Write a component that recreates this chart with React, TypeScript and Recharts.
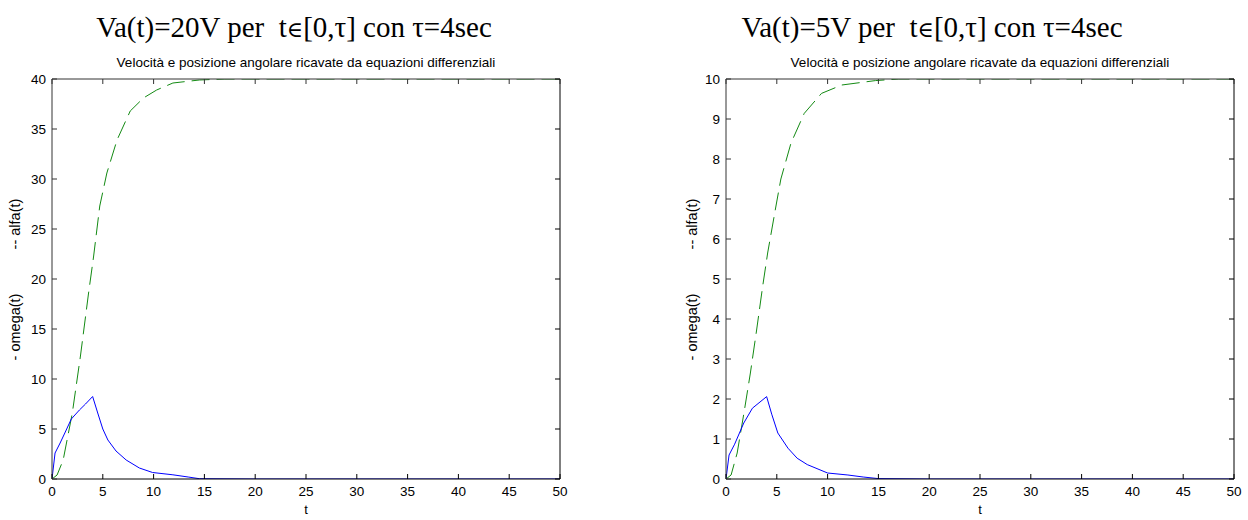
import React from 'react';
import { LineChart, Line, XAxis, YAxis } from 'recharts';

// ---- Left panel: Va(t)=20V ----
const tOmega20 = [0, 0.3, 0.8, 1.4, 1.9, 2.7, 3.3, 4.0, 4.5, 5.0, 5.5, 6.3, 7.3, 8.6, 9.9, 11.9, 13.4, 14.5, 20, 30, 40, 50];
const omega20 = [0, 2.6, 3.6, 4.9, 6.0, 6.9, 7.5, 8.25, 6.6, 5.0, 3.9, 2.8, 1.9, 1.1, 0.65, 0.42, 0.2, 0.03, 0, 0, 0, 0];
const tAlfa20 = [0, 0.5, 1.1, 2.0, 2.8, 3.6, 4.1, 4.7, 5.4, 6.4, 7.7, 9.0, 10.3, 11.9, 14.5, 17, 20, 30, 40, 50];
const alfa20 = [0, 0.4, 1.9, 6.6, 12.3, 18.6, 22.3, 27.3, 30.6, 33.9, 36.8, 38.1, 38.9, 39.6, 39.9, 40, 40, 40, 40, 40];

// ---- Right panel: Va(t)=5V ----
const tOmega5 = [0, 0.3, 0.85, 1.75, 2.6, 4.0, 4.5, 5.1, 6.1, 7.0, 8.0, 10.0, 12.0, 13.5, 15, 20, 30, 40, 50];
const omega5 = [0, 0.6, 0.87, 1.4, 1.77, 2.06, 1.62, 1.15, 0.77, 0.52, 0.36, 0.15, 0.1, 0.05, 0.01, 0, 0, 0, 0];
const tAlfa5 = [0, 0.5, 1.1, 1.8, 2.4, 3.0, 3.6, 4.1, 4.9, 5.4, 6.4, 7.7, 9.4, 11.4, 14.7, 17, 20, 30, 40, 50];
const alfa5 = [0, 0.1, 0.65, 1.7, 2.65, 3.7, 4.8, 5.65, 6.8, 7.5, 8.4, 9.14, 9.64, 9.85, 9.96, 10, 10, 10, 10, 10];

const xTicks = [0, 5, 10, 15, 20, 25, 30, 35, 40, 45, 50];
const yTicks20 = [0, 5, 10, 15, 20, 25, 30, 35, 40];
const yTicks5 = [0, 1, 2, 3, 4, 5, 6, 7, 8, 9, 10];

const titleHead20 = 'Va(t)=20V per  t';
const titleHead5 = 'Va(t)=5V per  t';
const titleElem = '\u2208';
const titleTail = '[0,\u03c4] con \u03c4=4sec';
const subtitle = 'Velocit\u00e0 e posizione angolare ricavate da equazioni differenziali';
const xLabel = 't';
const yLabelOmega = '- omega(t)';
const yLabelAlfa = '-- alfa(t)';

const toPts = (ts: number[], vs: number[]) => ts.map((t, i) => ({ t, v: vs[i] }));

const SANS = 'Liberation Sans, Arial, sans-serif';
const SERIF = 'Liberation Serif, Times New Roman, serif';
const TICK_LEN = 5;

const BottomTick = (props: any) => {
  const { x, y, payload } = props;
  return (
    <g>
      <line x1={x} y1={y} x2={x} y2={y - TICK_LEN} stroke="#000" strokeWidth={1} />
      <text x={x} y={y + 17} textAnchor="middle" fontFamily={SANS} fontSize={13.5} fill="#000">{payload.value}</text>
    </g>
  );
};
const TopTick = (props: any) => {
  const { x, y } = props;
  return <line x1={x} y1={y} x2={x} y2={y + TICK_LEN} stroke="#333" strokeWidth={1} />;
};
const LeftTick = (props: any) => {
  const { x, y, payload } = props;
  return (
    <g>
      <line x1={x} y1={y} x2={x + TICK_LEN} y2={y} stroke="#333" strokeWidth={1} />
      <text x={x - 6} y={y + 5} textAnchor="end" fontFamily={SANS} fontSize={13.5} fill="#000">{payload.value}</text>
    </g>
  );
};
const RightTick = (props: any) => {
  const { x, y } = props;
  return <line x1={x} y1={y} x2={x - TICK_LEN} y2={y} stroke="#000" strokeWidth={1} />;
};

type PanelProps = {
  left: number;
  yAxisWidth: number;
  rightMargin: number;
  yMax: number;
  yTicks: number[];
  omega: { t: number; v: number }[];
  alfa: { t: number; v: number }[];
};

function Panel(p: PanelProps) {
  return (
    <div style={{ position: 'absolute', left: p.left, top: 0 }}>
      <LineChart width={624} height={520} margin={{ top: 78, right: p.rightMargin - 1, bottom: 11, left: 0 }}>
        <XAxis
          xAxisId="b"
          dataKey="t"
          type="number"
          domain={[0, 50]}
          ticks={xTicks}
          allowDataOverflow
          height={30}
          tickSize={0}
          tickMargin={0}
          tickLine={false}
          axisLine={{ stroke: '#000' }}
          tick={<BottomTick />}
          interval={0}
        />
        <XAxis
          xAxisId="top"
          orientation="top"
          dataKey="t"
          type="number"
          domain={[0, 50]}
          ticks={xTicks}
          allowDataOverflow
          height={1}
          tickSize={0}
          tickMargin={0}
          tickLine={false}
          axisLine={{ stroke: '#333' }}
          tick={<TopTick />}
          interval={0}
        />
        <YAxis
          yAxisId="l"
          type="number"
          domain={[0, p.yMax]}
          ticks={p.yTicks}
          allowDataOverflow
          width={p.yAxisWidth}
          tickSize={0}
          tickMargin={0}
          tickLine={false}
          axisLine={{ stroke: '#333' }}
          tick={<LeftTick />}
          interval={0}
        />
        <YAxis
          yAxisId="r"
          orientation="right"
          type="number"
          domain={[0, p.yMax]}
          ticks={p.yTicks}
          allowDataOverflow
          width={1}
          tickSize={0}
          tickMargin={0}
          tickLine={false}
          axisLine={{ stroke: '#000' }}
          tick={<RightTick />}
          interval={0}
        />
        <Line
          xAxisId="b"
          yAxisId="l"
          data={p.alfa}
          dataKey="v"
          type="linear"
          stroke="#138a13"
          strokeWidth={1}
          strokeDasharray="18 7"
          dot={false}
          isAnimationActive={false}
        />
        <Line
          xAxisId="b"
          yAxisId="l"
          data={p.omega}
          dataKey="v"
          type="linear"
          stroke="#0000ff"
          strokeWidth={1}
          dot={false}
          isAnimationActive={false}
        />
      </LineChart>
    </div>
  );
}

function Title({ x, head }: { x: number; head: string }) {
  return (
    <text x={x} y={37} textAnchor="middle" fontFamily={SERIF} fontSize={29} fill="#000" xmlSpace="preserve" style={{ whiteSpace: 'pre' }}>
      {head}
      <tspan fontFamily="DejaVu Serif, serif" fontSize={22}>{titleElem}</tspan>
      {titleTail}
    </text>
  );
}

export default function App() {
  return (
    <div style={{ position: 'absolute', left: 0, top: 0, width: 1248, height: 520, background: '#fff', overflow: 'hidden' }}>
      <Panel left={0} yAxisWidth={52} rightMargin={64} yMax={40} yTicks={yTicks20} omega={toPts(tOmega20, omega20)} alfa={toPts(tAlfa20, alfa20)} />
      <Panel left={624} yAxisWidth={102} rightMargin={14} yMax={10} yTicks={yTicks5} omega={toPts(tOmega5, omega5)} alfa={toPts(tAlfa5, alfa5)} />
      <svg width={1248} height={520} style={{ position: 'absolute', left: 0, top: 0, pointerEvents: 'none' }}>
        <Title x={294} head={titleHead20} />
        <Title x={932} head={titleHead5} />
        <text x={306} y={67} textAnchor="middle" fontFamily={SANS} fontSize={13.5} fill="#000">{subtitle}</text>
        <text x={980} y={67} textAnchor="middle" fontFamily={SANS} fontSize={13.5} fill="#000">{subtitle}</text>
        <text x={306} y={514} textAnchor="middle" fontFamily={SANS} fontSize={13} fill="#000">{xLabel}</text>
        <text x={980} y={514} textAnchor="middle" fontFamily={SANS} fontSize={13} fill="#000">{xLabel}</text>
        <text transform="translate(20,327) rotate(-90)" textAnchor="middle" fontFamily={SANS} fontSize={14.5} fill="#000">{yLabelOmega}</text>
        <text transform="translate(20,224) rotate(-90)" textAnchor="middle" fontFamily={SANS} fontSize={14.5} fill="#000">{yLabelAlfa}</text>
        <text transform="translate(697,327) rotate(-90)" textAnchor="middle" fontFamily={SANS} fontSize={14.5} fill="#000">{yLabelOmega}</text>
        <text transform="translate(697,224) rotate(-90)" textAnchor="middle" fontFamily={SANS} fontSize={14.5} fill="#000">{yLabelAlfa}</text>
      </svg>
    </div>
  );
}
